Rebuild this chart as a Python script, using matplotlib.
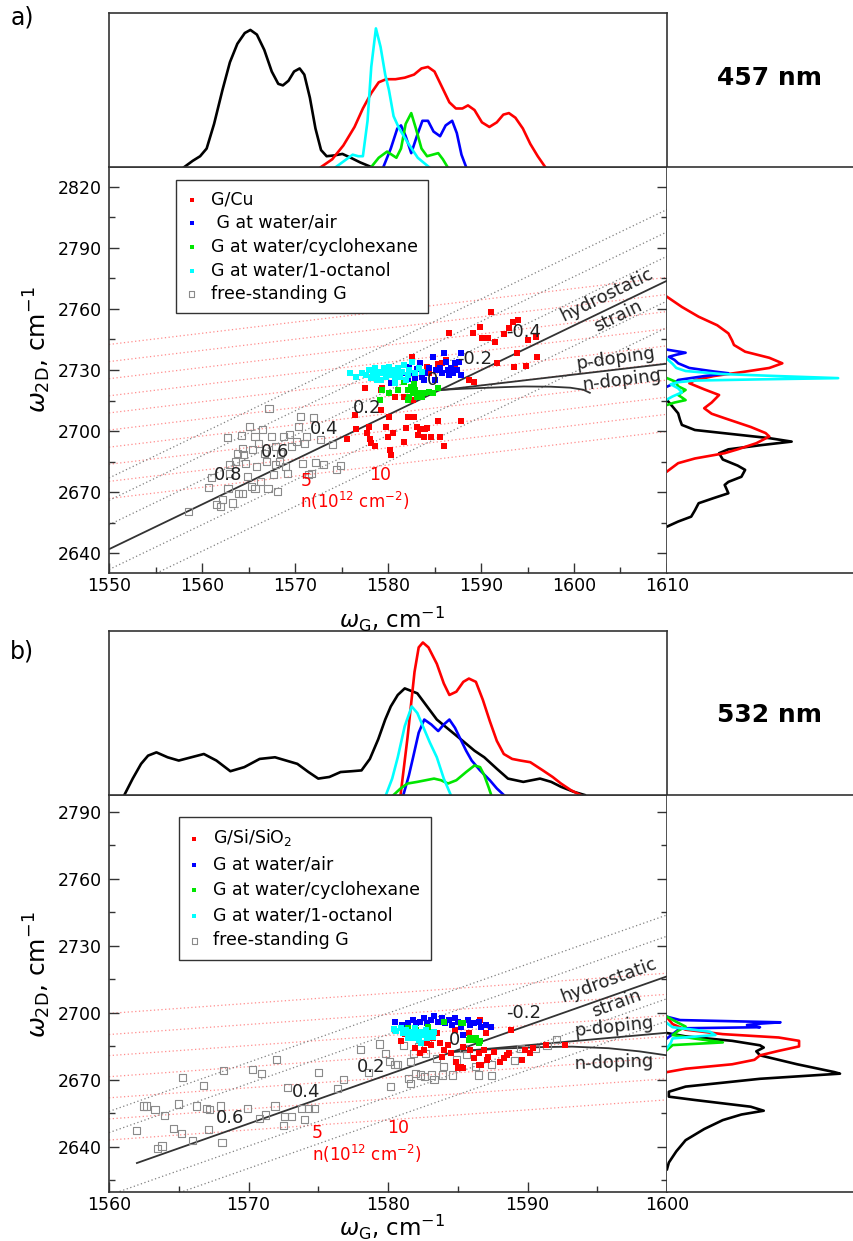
import numpy as np
import matplotlib
matplotlib.use("Agg")
import matplotlib.pyplot as plt
from matplotlib.ticker import MultipleLocator

# ------------------------------------------------------------------ data
LEGEND_A = ["G/Cu", " G at water/air", "G at water/cyclohexane", "G at water/1-octanol", "free-standing G"]
LEGEND_B = ["G/Si/SiO$_2$", "G at water/air", "G at water/cyclohexane", "G at water/1-octanol", "free-standing G"]

# ---- panel a (457 nm) scatter
A_GRAY_X = [1558.5, 1560.7, 1561.0, 1561.6, 1562.0, 1562.2, 1562.8, 1563.0, 1562.7, 1563.0, 1563.3, 1563.6, 1563.8, 1563.9, 1564.2, 1564.4, 1564.5, 1564.7, 1564.9, 1565.1, 1565.3, 1565.4, 1565.7, 1565.9, 1566.1, 1566.3, 1566.5, 1566.7, 1566.9, 1567.1, 1567.2, 1567.5, 1567.7, 1567.9, 1568.1, 1568.3, 1568.4, 1568.8, 1569.0, 1569.2, 1569.4, 1569.6, 1570.2, 1570.4, 1570.6, 1570.8, 1571.0, 1571.2, 1571.5, 1571.8, 1572.0, 1572.2, 1572.7, 1573.1, 1574.0, 1574.5, 1574.9, 1564.4, 1565.7, 1567.9]
A_GRAY_Y = [2660.5, 2672.4, 2677.3, 2663.8, 2662.9, 2666.2, 2671.9, 2679.3, 2696.8, 2683.4, 2664.6, 2685.0, 2689.1, 2669.2, 2697.6, 2691.6, 2688.3, 2684.2, 2677.7, 2702.2, 2672.8, 2690.8, 2697.3, 2682.6, 2694.0, 2675.2, 2700.6, 2689.1, 2685.0, 2671.9, 2711.2, 2697.3, 2678.5, 2692.4, 2670.3, 2685.0, 2689.1, 2697.3, 2682.6, 2679.3, 2698.1, 2692.4, 2694.8, 2702.2, 2707.1, 2684.2, 2694.0, 2697.3, 2678.5, 2679.3, 2706.8, 2684.5, 2696.0, 2683.7, 2693.5, 2680.9, 2682.9, 2669.5, 2671.9, 2683.4]
A_RED_X = [1575.6, 1576.4, 1576.6, 1577.5, 1577.7, 1578.0, 1578.1, 1578.2, 1578.6, 1579.2, 1579.4, 1579.8, 1580.0, 1580.1, 1580.2, 1580.3, 1580.5, 1580.7, 1581.7, 1581.9, 1582.2, 1582.6, 1582.8, 1583.1, 1583.2, 1583.4, 1583.9, 1584.0, 1584.2, 1584.6, 1585.4, 1585.6, 1586.0, 1587.9, 1586.6, 1587.2, 1588.7, 1589.3, 1589.9, 1590.1, 1590.7, 1591.1, 1591.5, 1591.7, 1593.0, 1593.4, 1594.0, 1593.6, 1593.9, 1594.8, 1595.1, 1595.9, 1596.0, 1592.5, 1589.1, 1585.8, 1586.2, 1582.3, 1584.2, 1584.4, 1585.4, 1581.7, 1579.2, 1582.7]
A_RED_Y = [2696.0, 2707.9, 2700.9, 2721.0, 2698.9, 2702.2, 2696.0, 2694.0, 2692.4, 2710.4, 2721.0, 2702.2, 2697.3, 2707.1, 2690.8, 2688.3, 2698.9, 2716.9, 2694.4, 2701.4, 2707.1, 2736.6, 2706.8, 2702.2, 2698.1, 2700.9, 2697.3, 2701.2, 2701.4, 2697.3, 2704.7, 2697.3, 2692.4, 2704.7, 2748.0, 2732.5, 2725.1, 2724.3, 2751.3, 2745.6, 2745.6, 2758.7, 2743.9, 2733.6, 2750.5, 2753.7, 2754.6, 2731.7, 2738.2, 2732.0, 2744.7, 2746.4, 2736.6, 2747.7, 2748.0, 2733.3, 2735.0, 2731.7, 2731.3, 2728.4, 2733.0, 2716.9, 2720.2, 2715.3]
A_BLUE_X = [1580.3, 1580.9, 1581.5, 1582.1, 1582.3, 1582.7, 1583.1, 1583.4, 1583.7, 1584.0, 1584.4, 1584.8, 1585.0, 1585.2, 1585.6, 1585.8, 1586.0, 1586.2, 1586.4, 1586.6, 1586.8, 1587.0, 1587.2, 1587.4, 1587.6, 1587.8, 1587.9, 1582.9, 1583.9]
A_BLUE_Y = [2723.8, 2726.7, 2728.4, 2725.4, 2731.7, 2728.4, 2730.3, 2733.3, 2726.7, 2728.4, 2730.8, 2736.6, 2725.1, 2730.0, 2730.8, 2728.4, 2738.2, 2734.1, 2730.0, 2727.6, 2730.8, 2728.4, 2733.3, 2730.0, 2734.1, 2738.2, 2727.6, 2725.9, 2725.1]
A_GREEN_X = [1579.1, 1579.4, 1580.1, 1581.1, 1581.7, 1582.1, 1582.3, 1582.5, 1582.7, 1582.9, 1583.1, 1583.3, 1583.7, 1584.0, 1584.4, 1584.8, 1585.4, 1582.2, 1582.8]
A_GREEN_Y = [2715.3, 2720.2, 2718.6, 2720.2, 2724.3, 2720.2, 2716.9, 2721.8, 2718.6, 2720.2, 2716.9, 2718.6, 2716.9, 2718.6, 2719.4, 2718.6, 2721.0, 2715.3, 2723.1]
A_CYAN_X = [1575.9, 1576.6, 1577.2, 1577.6, 1578.0, 1578.2, 1578.4, 1578.6, 1578.8, 1579.0, 1579.2, 1579.4, 1579.6, 1579.8, 1580.0, 1580.1, 1580.3, 1580.5, 1580.7, 1580.9, 1581.1, 1581.3, 1581.5, 1581.7, 1581.9, 1582.1, 1582.3, 1582.6, 1582.9, 1583.3, 1583.7, 1580.8, 1578.8]
A_CYAN_Y = [2728.4, 2726.4, 2728.4, 2727.6, 2730.0, 2725.9, 2728.4, 2730.8, 2727.1, 2729.2, 2725.1, 2728.4, 2730.8, 2726.7, 2729.2, 2731.7, 2727.6, 2730.0, 2725.9, 2728.4, 2730.8, 2726.7, 2729.2, 2732.5, 2725.1, 2727.6, 2730.0, 2734.1, 2728.4, 2730.8, 2729.2, 2723.5, 2725.1]

# ---- panel a distributions (top: omega_G, right: omega_2D)
A_TOP_BLACK_X = [1558.1, 1559.0, 1559.8, 1560.5, 1561.3, 1562.2, 1563.0, 1563.8, 1564.6, 1565.2, 1565.9, 1566.7, 1567.5, 1568.2, 1568.7, 1569.3, 1569.9, 1570.5, 1571.0, 1571.6, 1572.2, 1572.8, 1573.4, 1574.2, 1575.1, 1576.0, 1577.0, 1578.2]
A_TOP_BLACK_H = [0, 0.04, 0.07, 0.12, 0.28, 0.5, 0.68, 0.8, 0.87, 0.89, 0.86, 0.76, 0.62, 0.54, 0.53, 0.56, 0.62, 0.64, 0.6, 0.45, 0.25, 0.11, 0.07, 0.075, 0.085, 0.06, 0.03, 0]
A_TOP_RED_X = [1572.8, 1574.0, 1575.2, 1576.4, 1577.3, 1578.2, 1579.0, 1579.8, 1580.8, 1581.8, 1582.8, 1583.6, 1584.3, 1585.0, 1585.8, 1586.6, 1587.3, 1588.0, 1588.6, 1589.3, 1590.1, 1590.9, 1591.7, 1592.4, 1593.0, 1593.7, 1594.5, 1595.3, 1596.1, 1596.9]
A_TOP_RED_H = [0, 0.05, 0.14, 0.26, 0.38, 0.48, 0.55, 0.57, 0.57, 0.58, 0.6, 0.64, 0.65, 0.62, 0.52, 0.42, 0.38, 0.38, 0.4, 0.37, 0.29, 0.26, 0.29, 0.34, 0.35, 0.32, 0.25, 0.15, 0.07, 0]
A_TOP_BLUE_X = [1579.5, 1580.3, 1581.0, 1581.4, 1581.9, 1582.5, 1583.1, 1583.7, 1584.3, 1584.9, 1585.6, 1586.2, 1586.9, 1587.4, 1587.9, 1588.4]
A_TOP_BLUE_H = [0, 0.12, 0.25, 0.27, 0.2, 0.09, 0.2, 0.3, 0.3, 0.23, 0.2, 0.27, 0.3, 0.22, 0.08, 0]
A_TOP_GREEN_X = [1578.2, 1579.0, 1579.9, 1580.4, 1580.9, 1581.4, 1581.9, 1582.5, 1583.0, 1583.6, 1584.2, 1584.8, 1585.4, 1585.9, 1586.4]
A_TOP_GREEN_H = [0, 0.06, 0.1, 0.08, 0.06, 0.12, 0.28, 0.35, 0.25, 0.12, 0.07, 0.08, 0.09, 0.05, 0]
A_TOP_CYAN_X = [1574.4, 1575.3, 1576.2, 1576.8, 1577.3, 1577.8, 1578.2, 1578.7, 1579.2, 1579.7, 1580.1, 1580.6, 1581.2, 1582.1, 1583.2, 1584.4]
A_TOP_CYAN_H = [0, 0.04, 0.08, 0.07, 0.07, 0.3, 0.65, 0.9, 0.78, 0.6, 0.5, 0.33, 0.25, 0.16, 0.06, 0]

A_RIGHT_BLACK_Y = [2715.2, 2712, 2708.7, 2705.5, 2703, 2700.5, 2698.9, 2696.5, 2694.8, 2693, 2691, 2689.1, 2686, 2683, 2680.9, 2677.5, 2675, 2673.5, 2671.5, 2669.4, 2667, 2664.5, 2661, 2657.9, 2655.5, 2653]
A_RIGHT_BLACK_H = [0, 0.03, 0.06, 0.07, 0.08, 0.15, 0.31, 0.55, 0.67, 0.5, 0.33, 0.28, 0.3, 0.38, 0.42, 0.4, 0.33, 0.31, 0.32, 0.33, 0.25, 0.17, 0.15, 0.13, 0.06, 0]
A_RIGHT_RED_Y = [2766, 2761, 2756.2, 2752, 2748, 2744.5, 2742.3, 2739, 2736, 2733.3, 2731, 2729.2, 2727, 2725, 2723.5, 2720.5, 2717.7, 2714, 2711.2, 2708.5, 2706.3, 2702, 2699, 2697.3, 2694, 2691, 2689.1, 2686.5, 2684.2, 2680.1]
A_RIGHT_RED_H = [0, 0.08, 0.17, 0.27, 0.33, 0.35, 0.36, 0.42, 0.55, 0.62, 0.55, 0.42, 0.25, 0.15, 0.12, 0.2, 0.28, 0.24, 0.2, 0.24, 0.31, 0.45, 0.53, 0.55, 0.48, 0.38, 0.31, 0.15, 0.06, 0]
A_RIGHT_BLUE_Y = [2740, 2738.5, 2737.5, 2736.5, 2735, 2733.3, 2731, 2729.3, 2728.4, 2727, 2725.1, 2723.5, 2721.8]
A_RIGHT_BLUE_H = [0, 0.1, 0.05, 0.01, 0.04, 0.06, 0.12, 0.25, 0.33, 0.2, 0.06, 0.04, 0]
A_RIGHT_GREEN_Y = [2726, 2724.3, 2722, 2720.2, 2719, 2717.7, 2716.5, 2715.2, 2714, 2712.8]
A_RIGHT_GREEN_H = [0, 0.045, 0.06, 0.1, 0.08, 0.06, 0.08, 0.1, 0.04, 0]
A_RIGHT_CYAN_Y = [2735.5, 2733, 2731, 2729.5, 2728, 2727, 2726, 2725.4, 2724.8, 2724, 2723, 2721, 2719, 2717, 2715.5]
A_RIGHT_CYAN_H = [0, 0.03, 0.05, 0.1, 0.3, 0.6, 0.92, 0.5, 0.15, 0.06, 0.02, 0.06, 0.08, 0.03, 0]

# ---- panel a strain/doping construction
A_ORIGIN = (1585.5, 2720.0)
A_STRAIN_START = 1550.0
A_P_SLOPE = 0.535
A_ISO_SLOPE = 0.55
A_STRAIN_COEFF = 25.5
A_ISO_STRAIN = [0.8, 0.6, 0.4, 0.2, 0.0, -0.2, -0.4, -0.6, -0.8, -1.0]
A_ISO_DOPING = [35, 24, 12, -10, -23]
A_NDOP_X = [1585.6, 1588.1, 1592.0, 1594.6, 1597.5, 1599.6, 1601.0, 1601.7]
A_NDOP_Y = [2720.2, 2720.8, 2721.5, 2721.9, 2721.8, 2721.3, 2720.3, 2718.8]
A_STRAIN_LABELS = ["0.8", "0.6", "0.4", "0.2", "0", "-0.2", "-0.4"]
A_STRAIN_LABEL_X = [1562.8, 1567.9, 1573.1, 1577.8, 1584.8, 1589.3, 1594.6]
A_STRAIN_LABEL_Y = [2678.5, 2689.6, 2700.9, 2711.2, 2725.0, 2735.4, 2748.5]
A_N_LABELS = ["5", "10"]
A_N_LABEL_X = [1571.2, 1579.2]
A_N_LABEL_Y = [2675.5, 2678.5]

# ---- panel b (532 nm) scatter
B_GRAY_X = [1562.0, 1562.5, 1562.7, 1563.3, 1563.5, 1563.8, 1564.0, 1564.6, 1565.0, 1565.2, 1565.3, 1566.0, 1566.3, 1566.8, 1567.0, 1567.1, 1567.2, 1568.0, 1568.1, 1568.2, 1569.9, 1570.3, 1570.8, 1570.9, 1571.2, 1571.9, 1572.0, 1572.5, 1572.6, 1572.8, 1573.1, 1573.8, 1574.0, 1574.3, 1574.7, 1575.0, 1576.4, 1576.8, 1578.0, 1578.6, 1579.4, 1579.8, 1580.1, 1580.2, 1580.5, 1580.7, 1581.1, 1581.5, 1581.6, 1581.6, 1581.8, 1582.0, 1582.2, 1582.3, 1582.6, 1582.7, 1582.8, 1583.1, 1583.3, 1583.5, 1583.9, 1584.0, 1584.6, 1584.9, 1585.4, 1585.6, 1586.3, 1586.5, 1587.4, 1587.4, 1589.1, 1589.5, 1590.6, 1591.4, 1592.1]
B_GRAY_Y = [2647.3, 2658.3, 2658.3, 2656.8, 2639.4, 2640.4, 2653.9, 2648.3, 2659.2, 2646.1, 2671.2, 2642.7, 2658.3, 2667.3, 2657.3, 2647.6, 2656.8, 2658.3, 2641.9, 2674.2, 2657.3, 2674.5, 2652.8, 2673.0, 2654.3, 2658.3, 2679.2, 2649.4, 2653.6, 2666.5, 2653.6, 2657.3, 2652.1, 2657.3, 2657.3, 2673.3, 2666.3, 2670.0, 2683.7, 2673.3, 2686.1, 2681.9, 2678.2, 2667.0, 2676.7, 2676.7, 2685.6, 2670.7, 2668.5, 2678.2, 2681.9, 2673.0, 2684.9, 2672.2, 2671.5, 2681.9, 2688.6, 2672.2, 2670.0, 2679.7, 2672.2, 2676.0, 2672.2, 2678.9, 2684.2, 2681.2, 2676.0, 2672.2, 2676.7, 2671.8, 2678.6, 2684.2, 2684.2, 2685.6, 2687.9]
B_RED_X = [1580.9, 1581.2, 1581.5, 1581.9, 1582.3, 1582.6, 1582.8, 1583.1, 1583.2, 1583.5, 1583.7, 1583.9, 1584.0, 1584.3, 1584.5, 1584.8, 1584.9, 1585.0, 1585.2, 1585.4, 1585.8, 1585.9, 1586.2, 1586.5, 1586.6, 1586.7, 1586.9, 1587.0, 1587.1, 1587.2, 1587.6, 1588.0, 1588.3, 1588.5, 1588.7, 1588.8, 1589.6, 1589.8, 1590.2, 1590.4, 1591.3, 1592.7, 1585.4, 1586.5]
B_RED_Y = [2687.6, 2690.6, 2691.6, 2684.2, 2681.9, 2683.4, 2686.4, 2685.6, 2688.6, 2690.9, 2686.4, 2680.4, 2683.4, 2685.6, 2681.9, 2692.4, 2678.2, 2675.2, 2676.0, 2684.9, 2690.9, 2683.4, 2679.7, 2681.9, 2696.9, 2676.7, 2683.4, 2690.9, 2678.9, 2680.4, 2682.7, 2678.2, 2679.7, 2681.2, 2681.9, 2692.4, 2678.9, 2683.4, 2681.9, 2684.2, 2685.6, 2685.6, 2675.2, 2676.7]
B_BLUE_X = [1580.5, 1581.0, 1581.4, 1581.8, 1582.0, 1582.3, 1582.6, 1582.8, 1583.1, 1583.3, 1583.6, 1583.9, 1584.1, 1584.4, 1584.6, 1584.8, 1585.0, 1585.2, 1585.4, 1585.7, 1585.9, 1586.2, 1586.5, 1586.7, 1587.0, 1587.4, 1585.4]
B_BLUE_Y = [2696.1, 2694.6, 2695.4, 2696.9, 2695.4, 2696.1, 2697.6, 2695.4, 2696.9, 2698.4, 2696.1, 2697.6, 2695.4, 2696.9, 2694.6, 2697.6, 2696.1, 2693.9, 2695.4, 2696.9, 2694.6, 2695.4, 2696.1, 2693.9, 2694.6, 2693.9, 2690.1]
B_GREEN_X = [1581.4, 1582.0, 1582.9, 1584.0, 1585.4, 1585.8, 1586.2, 1586.3, 1586.5, 1585.9, 1586.6, 1585.2]
B_GREEN_Y = [2693.1, 2692.4, 2693.9, 2696.1, 2695.4, 2687.9, 2687.9, 2688.6, 2686.4, 2688.6, 2687.6, 2695.4]
B_CYAN_X = [1580.4, 1580.6, 1580.9, 1581.1, 1581.3, 1581.5, 1581.6, 1581.8, 1581.9, 1582.0, 1582.2, 1582.3, 1582.4, 1582.6, 1582.7, 1582.8, 1582.9, 1583.2, 1583.3, 1581.4, 1582.2]
B_CYAN_Y = [2692.7, 2692.1, 2693.1, 2690.9, 2692.4, 2690.1, 2691.6, 2688.6, 2693.1, 2690.9, 2689.4, 2691.6, 2686.4, 2690.1, 2692.4, 2688.6, 2690.9, 2689.4, 2691.6, 2688.6, 2687.9]

# ---- panel b distributions
B_TOP_BLACK_X = [1561.1, 1561.7, 1562.3, 1562.8, 1563.4, 1564.2, 1565.0, 1565.9, 1566.8, 1567.7, 1568.7, 1569.7, 1570.8, 1571.9, 1572.7, 1573.5, 1574.3, 1575.0, 1575.8, 1576.6, 1577.4, 1578.1, 1578.7, 1579.3, 1579.8, 1580.2, 1580.7, 1581.2, 1582.1, 1582.8, 1583.5, 1584.5, 1585.5, 1586.2, 1586.9, 1587.8, 1588.6, 1589.7, 1590.9, 1591.7, 1592.4, 1593.3, 1594.1]
B_TOP_BLACK_H = [0, 0.1, 0.19, 0.24, 0.26, 0.23, 0.21, 0.23, 0.25, 0.21, 0.145, 0.17, 0.22, 0.23, 0.21, 0.19, 0.14, 0.10, 0.11, 0.14, 0.145, 0.15, 0.22, 0.34, 0.46, 0.54, 0.61, 0.65, 0.62, 0.54, 0.46, 0.39, 0.32, 0.27, 0.23, 0.16, 0.1, 0.08, 0.1, 0.08, 0.05, 0.02, 0]
B_TOP_RED_X = [1580.9, 1581.4, 1581.9, 1582.2, 1582.5, 1582.9, 1583.5, 1584.0, 1584.4, 1584.9, 1585.4, 1585.8, 1586.3, 1586.8, 1587.3, 1587.8, 1588.3, 1588.9, 1589.5, 1590.2, 1591.1, 1591.8, 1592.4, 1593.1, 1593.8]
B_TOP_RED_H = [0, 0.35, 0.75, 0.9, 0.93, 0.9, 0.8, 0.68, 0.61, 0.63, 0.69, 0.71, 0.69, 0.58, 0.45, 0.33, 0.25, 0.22, 0.21, 0.2, 0.15, 0.11, 0.07, 0.03, 0]
B_TOP_BLUE_X = [1581.1, 1581.5, 1581.8, 1582.2, 1582.6, 1583.1, 1583.6, 1584.0, 1584.4, 1584.8, 1585.2, 1585.6, 1586.0, 1586.6, 1587.3, 1587.8, 1588.3]
B_TOP_BLUE_H = [0, 0.12, 0.23, 0.38, 0.46, 0.43, 0.39, 0.43, 0.46, 0.41, 0.34, 0.27, 0.21, 0.15, 0.09, 0.04, 0]
B_TOP_GREEN_X = [1580.4, 1580.9, 1581.4, 1582.1, 1582.7, 1583.3, 1583.8, 1584.3, 1584.9, 1585.6, 1586.2, 1586.6, 1586.9, 1587.2, 1587.4]
B_TOP_GREEN_H = [0, 0.04, 0.07, 0.08, 0.09, 0.10, 0.09, 0.07, 0.09, 0.14, 0.18, 0.17, 0.12, 0.05, 0]
B_TOP_CYAN_X = [1579.85, 1580.3, 1580.7, 1581.2, 1581.7, 1582.1, 1582.5, 1583.0, 1583.5, 1584.0, 1584.5]
B_TOP_CYAN_H = [0, 0.1, 0.23, 0.42, 0.54, 0.5, 0.42, 0.32, 0.23, 0.1, 0]

B_RIGHT_BLACK_Y = [2691, 2689.5, 2687.5, 2685.5, 2684.5, 2682.8, 2681, 2677, 2673.5, 2672.8, 2670.5, 2667, 2664.7, 2662.5, 2661, 2658, 2656.2, 2654.5, 2652, 2648, 2643, 2638, 2633, 2630]
B_RIGHT_BLACK_H = [0, 0.1, 0.35, 0.5, 0.52, 0.48, 0.5, 0.7, 0.9, 0.93, 0.5, 0.1, 0.01, 0.01, 0.15, 0.45, 0.52, 0.4, 0.3, 0.2, 0.1, 0.05, 0.01, 0]
B_RIGHT_RED_Y = [2698, 2695, 2692.5, 2690.5, 2689, 2687.5, 2685, 2683, 2681, 2679, 2677, 2675, 2673.5]
B_RIGHT_RED_H = [0, 0.03, 0.1, 0.3, 0.6, 0.71, 0.71, 0.6, 0.5, 0.47, 0.35, 0.1, 0]
B_RIGHT_BLUE_Y = [2698.3, 2696.8, 2695.8, 2695.2, 2694.6, 2693.6, 2693.1, 2690.5, 2688.6]
B_RIGHT_BLUE_H = [0, 0.07, 0.61, 0.5, 0.43, 0.5, 0.07, 0.03, 0]
B_RIGHT_GREEN_Y = [2698.3, 2696, 2693.9, 2692, 2690.1, 2688.5, 2686.8, 2685.6, 2683.4]
B_RIGHT_GREEN_H = [0, 0.05, 0.1, 0.06, 0.03, 0.15, 0.3, 0.03, 0]
B_RIGHT_CYAN_Y = [2695.4, 2693.6, 2691.6, 2690.1, 2688.6, 2686.5, 2684.2]
B_RIGHT_CYAN_H = [0, 0.03, 0.23, 0.26, 0.03, 0.02, 0]

# ---- panel b strain/doping construction
B_ORIGIN = (1584.6, 2682.5)
B_STRAIN_START = 1562.0
B_P_SLOPE = 0.56
B_ISO_SLOPE = 0.45
B_STRAIN_COEFF = 27.0
B_ISO_STRAIN = [0.6, 0.4, 0.2, 0.0, -0.2, -0.4, -0.6]
B_ISO_DOPING = [27.5, 18, -10, -20]
B_NDOP_X = [1584.6, 1588.0, 1591.0, 1593.2, 1595.8, 1598.0, 1600.0]
B_NDOP_Y = [2682.6, 2684.0, 2684.7, 2684.9, 2684.2, 2682.8, 2681.0]
B_STRAIN_LABELS = ["0.6", "0.4", "0.2", "0", "-0.2"]
B_STRAIN_LABEL_X = [1568.7, 1574.1, 1578.8, 1584.8, 1589.7]
B_STRAIN_LABEL_Y = [2652.8, 2664.7, 2676.0, 2688.0, 2700.1]
B_N_LABELS = ["5", "10"]
B_N_LABEL_X = [1574.9, 1580.7]
B_N_LABEL_Y = [2646.0, 2648.3]

STRAIN_SLOPE = 2.2

# ------------------------------------------------------------------ style
RED, BLUE, GREEN, CYAN = "#ff0000", "#0000ff", "#00e600", "#00ffff"
GRAYSQ = "#8a8a8a"
SPINE = "#333333"
W, H = 854, 1241

fig = plt.figure(figsize=(W / 100, H / 100), dpi=100)


def rect(l, t, r, b):
    return [l / W, 1 - b / H, (r - l) / W, (b - t) / H]


def draw_panel(P):
    ax = fig.add_axes(rect(*P["main"]))
    axt = fig.add_axes(rect(*P["top"]))
    axr = fig.add_axes(rect(*P["right"]))
    xlim, ylim = P["xlim"], P["ylim"]
    x0, y0 = P["origin"]
    xs = np.array(xlim)

    # iso-strain (red dotted) and iso-doping (grey dotted) lines
    for eps in P["iso_strain"]:
        px = x0 - P["k"] * eps
        py = y0 - STRAIN_SLOPE * P["k"] * eps
        ax.plot(xs, py + P["iso_slope"] * (xs - px), color="#ff8c8c",
                ls=(0, (1, 2)), lw=0.9, zorder=1)
    for c in P["iso_doping"]:
        ax.plot(xs, y0 + STRAIN_SLOPE * (xs - x0) + c, color="#808080",
                ls=(0, (1, 2)), lw=0.9, zorder=1)
    # strain and doping lines
    sx = np.array([P["strain_start"], xlim[1]])
    ax.plot(sx, y0 + STRAIN_SLOPE * (sx - x0), color=SPINE, lw=1.3, zorder=2)
    px_ = np.array([x0, xlim[1]])
    ax.plot(px_, y0 + P["p_slope"] * (px_ - x0), color=SPINE, lw=1.3, zorder=2)
    ax.plot(P["ndop_x"], P["ndop_y"], color=SPINE, lw=1.3, zorder=2)

    # scatter
    hg = ax.scatter(P["gray"][0], P["gray"][1], marker="s", s=26, facecolors="none",
                    edgecolors=GRAYSQ, linewidths=0.8, zorder=3)
    hs = []
    for (xx, yy), col in zip(P["filled"], [RED, BLUE, GREEN, CYAN]):
        hs.append(ax.scatter(xx, yy, marker="s", s=20, color=col, linewidths=0, zorder=4))
    handles = hs + [hg]

    # text annotations
    for t, tx, ty in zip(*P["strain_labels"]):
        ax.text(tx, ty, t, fontsize=13, ha="center", va="center", color="#222222", zorder=5)
    for t, tx, ty in zip(*P["n_labels"]):
        ax.text(tx, ty, t, fontsize=12.5, ha="center", va="center", color=RED, zorder=5)
    ax.text(*P["n_title"], "n(10$^{12}$ cm$^{-2}$)", fontsize=12, ha="center", va="center",
            color=RED, zorder=5)
    for key in ["hydro", "strain", "pdop", "ndop"]:
        tx, ty, rot, txt = P[key]
        ax.text(tx, ty, txt, fontsize=13, ha="center", va="center", rotation=rot,
                rotation_mode="anchor", color="#222222", zorder=5)

    ax.set_xlim(xlim)
    ax.set_ylim(ylim)
    ax.xaxis.set_major_locator(MultipleLocator(10))
    ax.xaxis.set_minor_locator(MultipleLocator(5))
    ax.yaxis.set_major_locator(MultipleLocator(30))
    ax.yaxis.set_minor_locator(MultipleLocator(15))
    ax.tick_params(which="both", direction="in", top=False, right=True, labelsize=12.5,
                   color=SPINE, width=1.0)
    ax.tick_params(which="major", length=7)
    ax.tick_params(which="minor", length=4)
    ax.tick_params(axis="x", which="major", pad=3)
    ax.tick_params(axis="y", which="major", pad=5)
    for s in ax.spines.values():
        s.set_color(SPINE)
        s.set_linewidth(1.2)

    # axis labels placed in figure pixels
    lx, ly = P["xlabel_pos"]
    fig.text(lx / W, 1 - ly / H, r"$\omega_{\mathrm{G}}$, cm$^{-1}$", fontsize=16.5,
             ha="center", va="center")
    yx, yy_ = P["ylabel_pos"]
    fig.text(yx / W, 1 - yy_ / H, r"$\omega_{\mathrm{2D}}$, cm$^{-1}$", fontsize=18,
             ha="center", va="center", rotation=90)

    leg = ax.legend(handles, P["legend"], loc="upper left", bbox_to_anchor=P["leg_pos"],
                    fontsize=12.5, frameon=True, fancybox=False, edgecolor=SPINE,
                    framealpha=1, handlelength=0.6, handletextpad=0.8,
                    labelspacing=P["leg_spacing"], borderpad=0.6, borderaxespad=0,
                    scatterpoints=1, markerscale=0.8)
    leg.get_frame().set_linewidth(1.0)
    leg.set_zorder(6)

    # top distribution
    cols = ["black", RED, BLUE, GREEN, CYAN]
    for (xx, hh), col in zip(P["top_curves"], cols):
        axt.plot(xx, hh, color=col, lw=1.9)
    axt.set_xlim(xlim)
    axt.set_ylim(0, 1)
    axt.set_xticks([])
    axt.set_yticks([])
    for s in axt.spines.values():
        s.set_color(SPINE)
        s.set_linewidth(1.2)

    # right distribution
    for (yy, hh), col in zip(P["right_curves"], cols):
        axr.plot(hh, yy, color=col, lw=1.9)
    axr.set_ylim(ylim)
    axr.set_xlim(0, 1.016)
    axr.set_xticks([])
    axr.set_yticks([])
    axr.spines["right"].set_visible(False)
    axr.spines["left"].set_visible(False)
    for s in axr.spines.values():
        s.set_color(SPINE)
        s.set_linewidth(1.2)


PA = dict(
    main=(109, 167, 667, 573), top=(109, 13, 667, 167), right=(667, 167, 856, 573),
    xlim=(1550, 1610), ylim=(2630.2, 2829.8), origin=A_ORIGIN, k=A_STRAIN_COEFF,
    iso_strain=A_ISO_STRAIN, iso_slope=A_ISO_SLOPE, iso_doping=A_ISO_DOPING,
    strain_start=A_STRAIN_START, p_slope=A_P_SLOPE, ndop_x=A_NDOP_X, ndop_y=A_NDOP_Y,
    gray=(A_GRAY_X, A_GRAY_Y),
    filled=[(A_RED_X, A_RED_Y), (A_BLUE_X, A_BLUE_Y), (A_GREEN_X, A_GREEN_Y), (A_CYAN_X, A_CYAN_Y)],
    strain_labels=(A_STRAIN_LABELS, A_STRAIN_LABEL_X, A_STRAIN_LABEL_Y),
    n_labels=(A_N_LABELS, A_N_LABEL_X, A_N_LABEL_Y), n_title=(1576.4, 2665.5),
    hydro=(1603.5, 2766.8, 26, "hydrostatic"), strain=(1604.7, 2756.5, 26, "strain"),
    pdop=(1604.5, 2735.4, 8, "p-doping"), ndop=(1605.1, 2725.1, 7, "n-doping"),
    legend=LEGEND_A, leg_pos=(0.12, 0.968), leg_spacing=0.32,
    xlabel_pos=(392, 619), ylabel_pos=(37, 350),
    top_curves=[(A_TOP_BLACK_X, A_TOP_BLACK_H), (A_TOP_RED_X, A_TOP_RED_H), (A_TOP_BLUE_X, A_TOP_BLUE_H),
                (A_TOP_GREEN_X, A_TOP_GREEN_H), (A_TOP_CYAN_X, A_TOP_CYAN_H)],
    right_curves=[(A_RIGHT_BLACK_Y, A_RIGHT_BLACK_H), (A_RIGHT_RED_Y, A_RIGHT_RED_H),
                  (A_RIGHT_BLUE_Y, A_RIGHT_BLUE_H), (A_RIGHT_GREEN_Y, A_RIGHT_GREEN_H),
                  (A_RIGHT_CYAN_Y, A_RIGHT_CYAN_H)],
)

PB = dict(
    main=(109, 795, 667, 1192), top=(109, 631, 667, 795), right=(667, 795, 856, 1192),
    xlim=(1560, 1600), ylim=(2619.8, 2797.6), origin=B_ORIGIN, k=B_STRAIN_COEFF,
    iso_strain=B_ISO_STRAIN, iso_slope=B_ISO_SLOPE, iso_doping=B_ISO_DOPING,
    strain_start=B_STRAIN_START, p_slope=B_P_SLOPE, ndop_x=B_NDOP_X, ndop_y=B_NDOP_Y,
    gray=(B_GRAY_X, B_GRAY_Y),
    filled=[(B_RED_X, B_RED_Y), (B_BLUE_X, B_BLUE_Y), (B_GREEN_X, B_GREEN_Y), (B_CYAN_X, B_CYAN_Y)],
    strain_labels=(B_STRAIN_LABELS, B_STRAIN_LABEL_X, B_STRAIN_LABEL_Y),
    n_labels=(B_N_LABELS, B_N_LABEL_X, B_N_LABEL_Y), n_title=(1578.5, 2637.0),
    hydro=(1595.8, 2714.8, 20, "hydrostatic"), strain=(1596.4, 2704.3, 20, "strain"),
    pdop=(1596.2, 2693.6, 6, "p-doping"), ndop=(1596.2, 2677.7, 2, "n-doping"),
    legend=LEGEND_B, leg_pos=(0.125, 0.945), leg_spacing=0.42,
    xlabel_pos=(392, 1227), ylabel_pos=(37, 975),
    top_curves=[(B_TOP_BLACK_X, B_TOP_BLACK_H), (B_TOP_RED_X, B_TOP_RED_H), (B_TOP_BLUE_X, B_TOP_BLUE_H),
                (B_TOP_GREEN_X, B_TOP_GREEN_H), (B_TOP_CYAN_X, B_TOP_CYAN_H)],
    right_curves=[(B_RIGHT_BLACK_Y, B_RIGHT_BLACK_H), (B_RIGHT_RED_Y, B_RIGHT_RED_H),
                  (B_RIGHT_BLUE_Y, B_RIGHT_BLUE_H), (B_RIGHT_GREEN_Y, B_RIGHT_GREEN_H),
                  (B_RIGHT_CYAN_Y, B_RIGHT_CYAN_H)],
)

draw_panel(PA)
draw_panel(PB)

fig.text(22 / W, 1 - 18 / H, "a)", fontsize=17, ha="center", va="center")
fig.text(22 / W, 1 - 652 / H, "b)", fontsize=17, ha="center", va="center")
fig.text(770 / W, 1 - 78 / H, "457 nm", fontsize=18, fontweight="bold", ha="center", va="center")
fig.text(770 / W, 1 - 715 / H, "532 nm", fontsize=18, fontweight="bold", ha="center", va="center")

fig.savefig("out.png", dpi=100)
